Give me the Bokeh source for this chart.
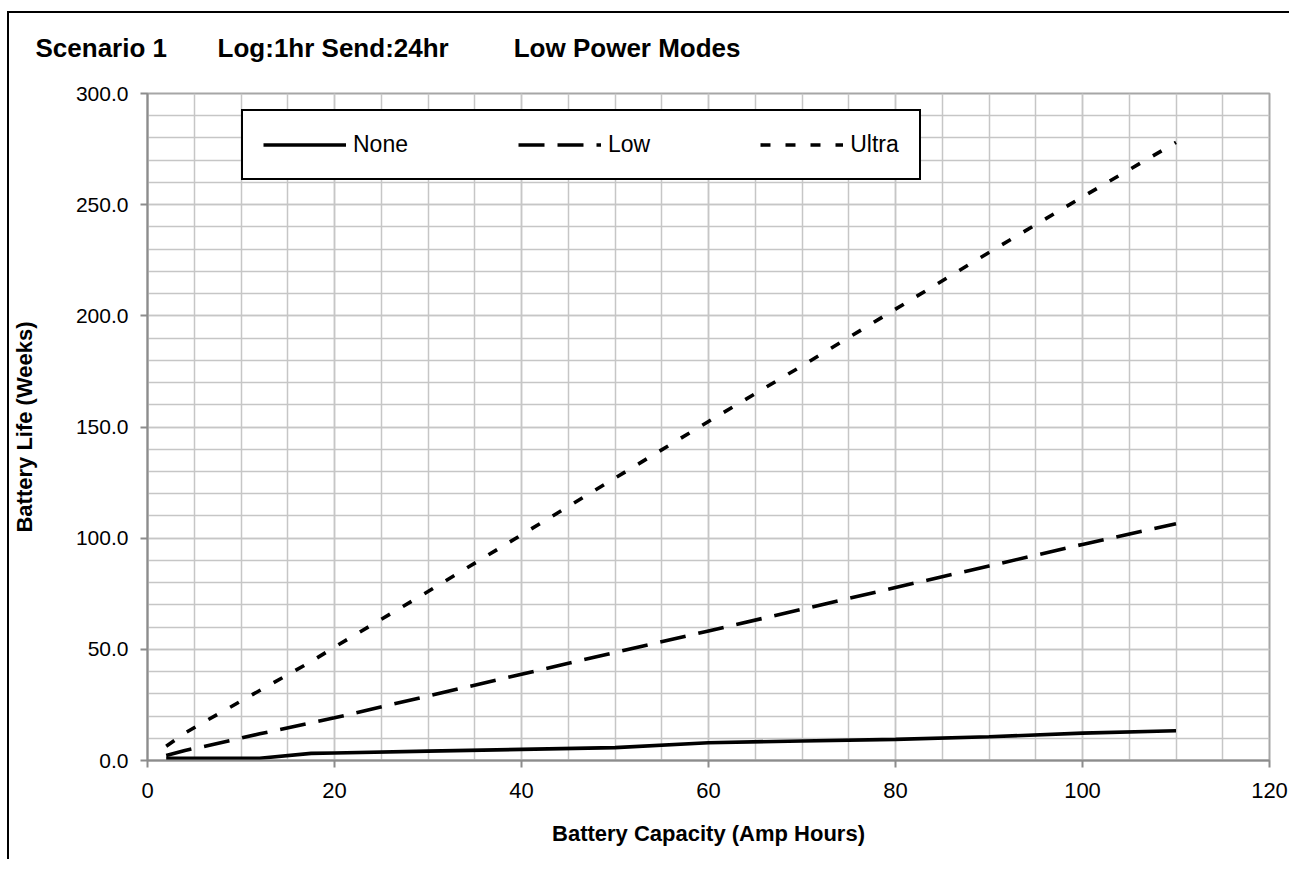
from bokeh.plotting import figure
from bokeh.models import (Range1d, SingleIntervalTicker, NumeralTickFormatter,
                          Legend, LegendItem)
from bokeh.embed import file_html
from bokeh.resources import INLINE

# ---- data ----
capacity = [2, 4, 6, 12, 17.5, 20, 30, 40, 50, 60, 70, 80, 90, 100, 110]
life_none = [1.0, 1.0, 1.0, 1.0, 3.2, 3.4, 4.2, 5.0, 5.8, 8.0, 8.8, 9.5, 10.7, 12.3, 13.4]
life_low = [2.2, 4.5, 6.3, 12.0, 17.0, 19.2, 29.0, 38.8, 48.6, 58.3, 68.0, 77.8, 87.5, 97.2, 106.5]
life_ultra = [6.4, 12.3, 17.2, 31.5, 44.5, 51.0, 76.0, 101.5, 127.0, 152.5, 177.5, 203.0, 228.5, 253.5, 278.0]

series_names = ["None", "Low", "Ultra"]
title_parts = ["Scenario 1", "Log:1hr Send:24hr", "Low Power Modes"]
x_label = "Battery Capacity (Amp Hours)"
y_label = "Battery Life (Weeks)"

FONT = "Liberation Sans"
GRID = "#c6c6c6"
AXIS = "#8c8c8c"

nb = "\u00a0"
title_text = title_parts[0] + nb * 7 + title_parts[1] + nb * 9 + title_parts[2]

p = figure(width=1282, height=859, output_backend="svg", toolbar_location=None,
           x_range=Range1d(0, 120), y_range=Range1d(0, 300),
           min_border_left=140, min_border_top=91, min_border_right=20,
           min_border_bottom=99, title=title_text)
# outer chart frame (left and top edges) drawn behind a transparent canvas border
p.styles = {
    "margin-top": "0px", "margin-left": "7px",
    "background": ("linear-gradient(#000, #000) 0px 11px / 100% 2px no-repeat, "
                   "linear-gradient(#000, #000) 0px 11px / 2px 100% no-repeat"),
}
p.border_fill_alpha = 0

p.title.text_font = FONT
p.title.text_font_size = "26px"
p.title.text_font_style = "bold"
p.title.text_color = "black"
p.title.align = "left"
p.title.offset = -112
p.title.standoff = 61

p.background_fill_color = "white"
p.outline_line_color = "#a6a6a6"
p.outline_line_width = 2

p.xaxis.ticker = SingleIntervalTicker(interval=20, num_minor_ticks=4)
p.yaxis.ticker = SingleIntervalTicker(interval=50, num_minor_ticks=5)
p.yaxis.formatter = NumeralTickFormatter(format="0.0")

for ax in (p.xaxis, p.yaxis):
    ax.axis_line_color = AXIS
    ax.axis_line_width = 2
    ax.major_tick_line_color = AXIS
    ax.major_tick_line_width = 2
    ax.major_tick_out = 7
    ax.major_tick_in = 0
    ax.minor_tick_line_color = None
    ax.major_label_text_font = FONT
    ax.major_label_text_color = "black"
    ax.axis_label_text_font = FONT
    ax.axis_label_text_font_style = "bold"
    ax.axis_label_text_font_size = "22px"
    ax.axis_label_text_color = "black"

p.xaxis.major_label_text_font_size = "22px"
p.yaxis.major_label_text_font_size = "21px"
p.xaxis.major_label_standoff = 15
p.yaxis.major_label_standoff = 12
p.xaxis.axis_label = x_label
p.yaxis.axis_label = y_label
p.xaxis.axis_label_standoff = 20
p.yaxis.axis_label_standoff = 36

for g in (p.xgrid, p.ygrid):
    g.grid_line_color = GRID
    g.grid_line_width = 1.5
    g.minor_grid_line_color = GRID
    g.minor_grid_line_width = 1.5

LW = 3.6
r_none = p.line(capacity, life_none, line_color="black", line_width=LW)
r_low = p.line(capacity, life_low, line_color="black", line_width=LW, line_dash="26 13")
r_ultra = p.line(capacity, life_ultra, line_color="black", line_width=LW, line_dash="10 15")

legend = Legend(items=[LegendItem(label=series_names[0], renderers=[r_none]),
                       LegendItem(label=series_names[1], renderers=[r_low]),
                       LegendItem(label=series_names[2], renderers=[r_ultra])],
                orientation="horizontal", location=(94, 580),
                spacing=110, glyph_width=83, glyph_height=25, label_height=25,
                label_standoff=7, padding=20,
                label_text_font=FONT, label_text_font_size="23px",
                label_text_color="black",
                border_line_color="black", border_line_width=2, border_line_alpha=1,
                background_fill_color="white", background_fill_alpha=1)
p.add_layout(legend, "center")

open("out.html", "w").write(file_html(p, INLINE))
